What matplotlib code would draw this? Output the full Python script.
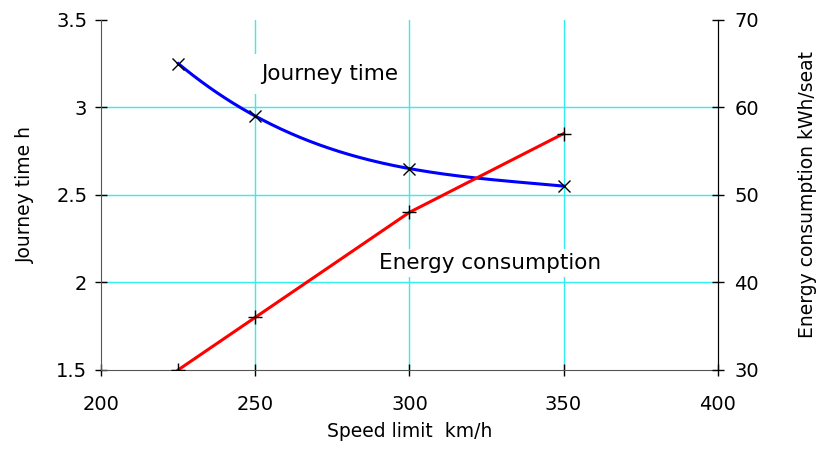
import numpy as np
import matplotlib.pyplot as plt

speed = [225, 250, 300, 350]
journey_time = [3.25, 2.95, 2.65, 2.55]
energy = [30, 36, 48, 57]

plt.rcParams['font.family'] = 'DejaVu Sans'

fig = plt.figure(figsize=(8.23, 4.51), dpi=100)
ax = fig.add_axes([0.123, 0.180, 0.749, 0.776])
ax2 = ax.twinx()

# smooth line for journey time (cubic through the four points)
coef = np.polyfit(speed, journey_time, 3)
xs = np.linspace(speed[0], speed[-1], 200)
ax.plot(xs, np.polyval(coef, xs), color='#0000ff', lw=2.2, zorder=3)
ax.plot(speed, journey_time, ls='none', marker='x', ms=9, mew=1, color='black', zorder=4)

ax2.plot(speed, energy, color='#ff0000', lw=2.2, zorder=3)
ax2.plot(speed, energy, ls='none', marker='+', ms=10, mew=1, color='black', zorder=4)

ax.set_xlim(200, 400)
ax.set_ylim(1.5, 3.5)
ax2.set_ylim(30, 70)
ax.set_xticks([200, 250, 300, 350, 400])
ax.set_yticks([1.5, 2, 2.5, 3, 3.5])
ax.set_yticklabels(['1.5', '2', '2.5', '3', '3.5'])
ax2.set_yticks([30, 40, 50, 60, 70])

for x in [250, 300, 350]:
    ax.axvline(x, color='#33eeee', lw=1, zorder=0)
for y in [2, 2.5, 3]:
    ax.axhline(y, color='#33eeee', lw=1, zorder=0)

for a in (ax, ax2):
    a.spines['top'].set_visible(False)
    a.tick_params(direction='inout', length=8, labelsize=14, width=1)
ax.spines['left'].set_color('#555555')
ax.spines['bottom'].set_color('#555555')
ax2.spines['left'].set_visible(False)
ax2.spines['bottom'].set_visible(False)
ax.tick_params(axis='x', pad=14)
ax.tick_params(axis='y', pad=6)
ax2.tick_params(axis='y', pad=8)

ax.set_xlabel('Speed limit  km/h', fontsize=13.5, labelpad=6)
ax.set_ylabel('Journey time h', fontsize=13.5, labelpad=15)
ax2.set_ylabel('Energy consumption kWh/seat', fontsize=13.5, labelpad=28)

ax.text(252, 3.19, 'Journey time', fontsize=15.5, va='center', ha='left', zorder=2,
        bbox=dict(facecolor='white', edgecolor='none', pad=7))
ax.text(290, 2.11, 'Energy consumption', fontsize=15.5, va='center', ha='left', zorder=2,
        bbox=dict(facecolor='white', edgecolor='none', pad=3))

fig.savefig('out.png', dpi=100)
